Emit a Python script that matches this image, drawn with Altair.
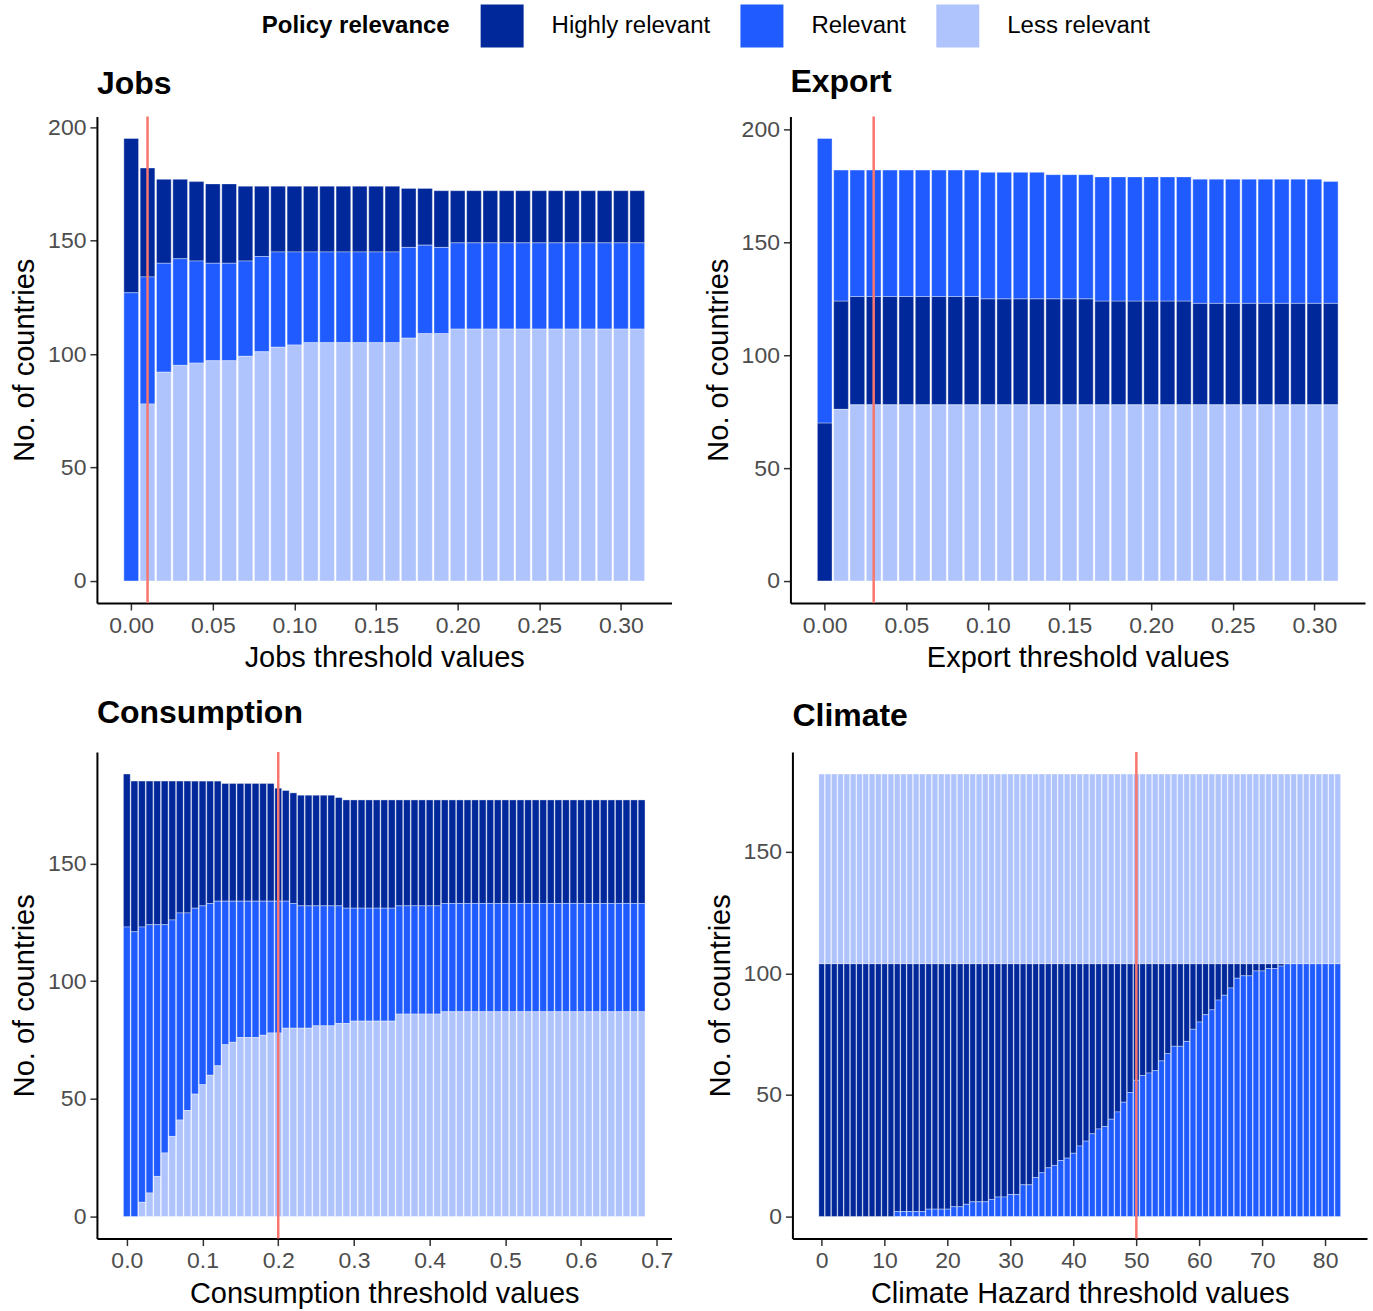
import altair as alt
import pandas as pd

# ---------------- data ----------------
CATEGORIES = ["Highly relevant", "Relevant", "Less relevant"]
COLORS = ["#00289A", "#1F5BFF", "#AFC3FD"]
LINE_COLOR = "#F8766D"

jobs_x = [0.00, 0.01, 0.02, 0.03, 0.04, 0.05, 0.06, 0.07, 0.08, 0.09, 0.10, 0.11, 0.12, 0.13, 0.14, 0.15,
          0.16, 0.17, 0.18, 0.19, 0.20, 0.21, 0.22, 0.23, 0.24, 0.25, 0.26, 0.27, 0.28, 0.29, 0.30, 0.31]
jobs_high = [68, 48, 37, 35, 35, 35, 35, 33, 31, 29, 29, 29, 29, 29, 29, 29,
             29, 26, 25, 25, 23, 23, 23, 23, 23, 23, 23, 23, 23, 23, 23, 23]
jobs_rel = [127, 56, 48, 47, 45, 43, 43, 42, 42, 42, 41, 40, 40, 40, 40, 40,
            40, 40, 39, 38, 38, 38, 38, 38, 38, 38, 38, 38, 38, 38, 38, 38]
jobs_less = [0, 78, 92, 95, 96, 97, 97, 99, 101, 103, 104, 105, 105, 105, 105, 105,
             105, 107, 109, 109, 111, 111, 111, 111, 111, 111, 111, 111, 111, 111, 111, 111]
jobs_line = 0.01

export_x = [0.00, 0.01, 0.02, 0.03, 0.04, 0.05, 0.06, 0.07, 0.08, 0.09, 0.10, 0.11, 0.12, 0.13, 0.14, 0.15,
            0.16, 0.17, 0.18, 0.19, 0.20, 0.21, 0.22, 0.23, 0.24, 0.25, 0.26, 0.27, 0.28, 0.29, 0.30, 0.31]
export_high = [70, 48, 48, 48, 48, 48, 48, 48, 48, 48, 47, 47, 47, 47, 47, 47,
               47, 46, 46, 46, 46, 46, 46, 45, 45, 45, 45, 45, 45, 45, 45, 45]
export_rel = [126, 58, 56, 56, 56, 56, 56, 56, 56, 56, 56, 56, 56, 56, 55, 55,
              55, 55, 55, 55, 55, 55, 55, 55, 55, 55, 55, 55, 55, 55, 55, 54]
export_less = [0, 76, 78, 78, 78, 78, 78, 78, 78, 78, 78, 78, 78, 78, 78, 78,
               78, 78, 78, 78, 78, 78, 78, 78, 78, 78, 78, 78, 78, 78, 78, 78]
export_line = 0.03

cons_x = [0.00, 0.01, 0.02, 0.03, 0.04, 0.05, 0.06, 0.07, 0.08, 0.09, 0.10, 0.11, 0.12, 0.13, 0.14, 0.15,
          0.16, 0.17, 0.18, 0.19, 0.20, 0.21, 0.22, 0.23, 0.24, 0.25, 0.26, 0.27, 0.28, 0.29, 0.30, 0.31,
          0.32, 0.33, 0.34, 0.35, 0.36, 0.37, 0.38, 0.39, 0.40, 0.41, 0.42, 0.43, 0.44, 0.45, 0.46, 0.47,
          0.48, 0.49, 0.50, 0.51, 0.52, 0.53, 0.54, 0.55, 0.56, 0.57, 0.58, 0.59, 0.60, 0.61, 0.62, 0.63,
          0.64, 0.65, 0.66, 0.67, 0.68]
cons_high = [65, 64, 62, 61, 61, 61, 59, 56, 56, 54, 53, 52, 51, 50, 50, 50,
             50, 50, 50, 50, 48, 47, 47, 47, 47, 47, 47, 47, 46, 46, 46, 46,
             46, 46, 46, 46, 45, 45, 45, 45, 45, 45, 44, 44, 44, 44, 44, 44,
             44, 44, 44, 44, 44, 44, 44, 44, 44, 44, 44, 44, 44, 44, 44, 44,
             44, 44, 44, 44, 44]
cons_rel = [123, 121, 117, 114, 107, 97, 92, 88, 84, 79, 76, 73, 70, 61, 60, 58,
            58, 58, 57, 56, 56, 54, 53, 52, 52, 51, 51, 51, 50, 49, 48, 48,
            48, 48, 48, 48, 46, 46, 46, 46, 46, 46, 46, 46, 46, 46, 46, 46,
            46, 46, 46, 46, 46, 46, 46, 46, 46, 46, 46, 46, 46, 46, 46, 46,
            46, 46, 46, 46, 46]
cons_less = [0, 0, 6, 10, 17, 27, 34, 41, 45, 52, 56, 60, 64, 73, 74, 76,
             76, 76, 77, 78, 78, 80, 80, 80, 80, 81, 81, 81, 82, 82, 83, 83,
             83, 83, 83, 83, 86, 86, 86, 86, 86, 86, 87, 87, 87, 87, 87, 87,
             87, 87, 87, 87, 87, 87, 87, 87, 87, 87, 87, 87, 87, 87, 87, 87,
             87, 87, 87, 87, 87]
cons_line = 0.2

clim_x = [0, 1, 2, 3, 4, 5, 6, 7, 8, 9, 10, 11, 12, 13, 14, 15, 16, 17, 18, 19, 20,
          21, 22, 23, 24, 25, 26, 27, 28, 29, 30, 31, 32, 33, 34, 35, 36, 37, 38, 39, 40,
          41, 42, 43, 44, 45, 46, 47, 48, 49, 50, 51, 52, 53, 54, 55, 56, 57, 58, 59, 60,
          61, 62, 63, 64, 65, 66, 67, 68, 69, 70, 71, 72, 73, 74, 75, 76, 77, 78, 79, 80,
          81, 82]
clim_high = [104, 104, 104, 104, 104, 104, 104, 104, 104, 104, 104, 104, 102, 102, 102, 102, 102,
             101, 101, 101, 101, 100, 100, 99, 98, 98, 98, 97, 96, 96, 95, 95, 91, 91,
             88, 86, 84, 83, 81, 80, 78, 75, 73, 70, 68, 67, 64, 61, 57, 53, 48,
             46, 45, 44, 40, 37, 34, 34, 32, 27, 24, 21, 19, 15, 13, 10, 6, 5, 5,
             3, 3, 2, 2, 1, 0, 0, 0, 0, 0, 0, 0, 0, 0]
clim_rel = [0, 0, 0, 0, 0, 0, 0, 0, 0, 0, 0, 0, 2, 2, 2, 2, 2,
            3, 3, 3, 3, 4, 4, 5, 6, 6, 6, 7, 8, 8, 9, 9, 13, 13,
            16, 18, 20, 21, 23, 24, 26, 29, 31, 34, 36, 37, 40, 43, 47, 51, 56,
            58, 59, 60, 64, 67, 70, 70, 72, 77, 80, 83, 85, 89, 91, 94, 98, 99, 99,
            101, 101, 102, 102, 103, 104, 104, 104, 104, 104, 104, 104, 104, 104]
clim_less = [78, 78, 78, 78, 78, 78, 78, 78, 78, 78, 78, 78, 78, 78, 78, 78, 78,
             78, 78, 78, 78, 78, 78, 78, 78, 78, 78, 78, 78, 78, 78, 78, 78, 78,
             78, 78, 78, 78, 78, 78, 78, 78, 78, 78, 78, 78, 78, 78, 78, 78, 78,
             78, 78, 78, 78, 78, 78, 78, 78, 78, 78, 78, 78, 78, 78, 78, 78, 78, 78,
             78, 78, 78, 78, 78, 78, 78, 78, 78, 78, 78, 78, 78, 78]
clim_line = 50

FONT = "Liberation Sans"

color_enc = alt.Color(
    "cat:N",
    scale=alt.Scale(domain=CATEGORIES, range=COLORS),
    legend=alt.Legend(
        title="Policy relevance", orient="none", legendX=165, legendY=-112,
        direction="horizontal", titleOrient="left", titleAnchor="middle",
        titleLimit=500, labelLimit=400,
        symbolType="square", symbolSize=1849, symbolStrokeWidth=0,
        labelFontSize=24, titleFontSize=24, titleFontWeight="bold",
        labelOffset=28, columnPadding=30, titlePadding=30,
        labelFont=FONT, titleFont=FONT, labelColor="black", titleColor="black",
    ),
)


def panel(title, xs, high, rel, less, order, step, xdom, ydom, xticks, yticks, xfmt, xtitle, line, toff):
    rows = []
    for i, x in enumerate(xs):
        for cat, vals in (("Highly relevant", high), ("Relevant", rel), ("Less relevant", less)):
            if vals[i] > 0:
                rows.append({"x": x, "cat": cat, "n": vals[i], "ord": order.index(cat)})
    df = pd.DataFrame(rows)
    half = 0.45 * step
    bars = (
        alt.Chart(df)
        .transform_stack(stack="n", groupby=["x"], as_=["y0", "y1"],
                         sort=[alt.SortField("ord", order="ascending")])
        .transform_calculate(x0=f"datum.x - {half}", x1=f"datum.x + {half}")
        .mark_bar(stroke="white", strokeWidth=0.6, strokeOpacity=0.6)
        .encode(
            x=alt.X("x0:Q", scale=alt.Scale(domain=xdom, nice=False, zero=False),
                    axis=alt.Axis(values=xticks, format=xfmt, title=xtitle)),
            x2="x1:Q",
            y=alt.Y("y0:Q", scale=alt.Scale(domain=ydom, nice=False, zero=False),
                    axis=alt.Axis(values=yticks, title="No. of countries")),
            y2="y1:Q",
            color=color_enc,
        )
    )
    rule = (
        alt.Chart(pd.DataFrame({"v": [line]}))
        .mark_rule(color=LINE_COLOR, strokeWidth=2.5)
        .encode(x=alt.X("v:Q"))
    )
    return alt.layer(bars, rule).properties(
        width=575, height=487,
        title=alt.TitleParams(title, anchor="start", frame="group", fontSize=32,
                              fontWeight="bold", font=FONT, color="black", offset=toff),
    )


jobs = panel("Jobs", jobs_x, jobs_high, jobs_rel, jobs_less,
             ["Less relevant", "Relevant", "Highly relevant"], 0.01,
             [-0.021, 0.331], [-9.75, 204.75], [0, 0.05, 0.1, 0.15, 0.2, 0.25, 0.3],
             [0, 50, 100, 150, 200], ".2f", "Jobs threshold values", jobs_line, 14)
export = panel("Export", export_x, export_high, export_rel, export_less,
               ["Less relevant", "Highly relevant", "Relevant"], 0.01,
               [-0.021, 0.331], [-9.8, 205.8], [0, 0.05, 0.1, 0.15, 0.2, 0.25, 0.3],
               [0, 50, 100, 150, 200], ".2f", "Export threshold values", export_line, 16)
cons = panel("Consumption", cons_x, cons_high, cons_rel, cons_less,
             ["Less relevant", "Relevant", "Highly relevant"], 0.01,
             [-0.0395, 0.7195], [-9.4, 197.4], [0, 0.1, 0.2, 0.3, 0.4, 0.5, 0.6, 0.7],
             [0, 50, 100, 150], ".1f", "Consumption threshold values", cons_line, 21)
clim = panel("Climate", clim_x, clim_high, clim_rel, clim_less,
             ["Relevant", "Highly relevant", "Less relevant"], 1,
             [-4.65, 86.65], [-9.1, 191.1], [0, 10, 20, 30, 40, 50, 60, 70, 80],
             [0, 50, 100, 150], "d", "Climate Hazard threshold values", clim_line, 18)

chart = (
    alt.vconcat(
        alt.hconcat(jobs, export, spacing=32),
        alt.hconcat(cons, clim, spacing=32),
        spacing=23,
    )
    .resolve_scale(color="shared")
    .properties(padding={"left": 10, "top": 4, "right": 6, "bottom": 6}, background="white")
    .configure_view(stroke=None)
    .configure_axis(
        grid=False, domainColor="black", domainWidth=2, tickColor="#333333", tickWidth=1.5,
        tickSize=7, labelColor="#4D4D4D", labelFontSize=23, labelFont=FONT, labelPadding=4,
        titleFont=FONT, titleFontSize=29, titleFontWeight="normal", titleColor="black",
    )
    .configure_axisX(titlePadding=7)
    .configure_axisY(titlePadding=8)
)

chart.save("out.html", embed_options={"renderer": "svg", "actions": False})
